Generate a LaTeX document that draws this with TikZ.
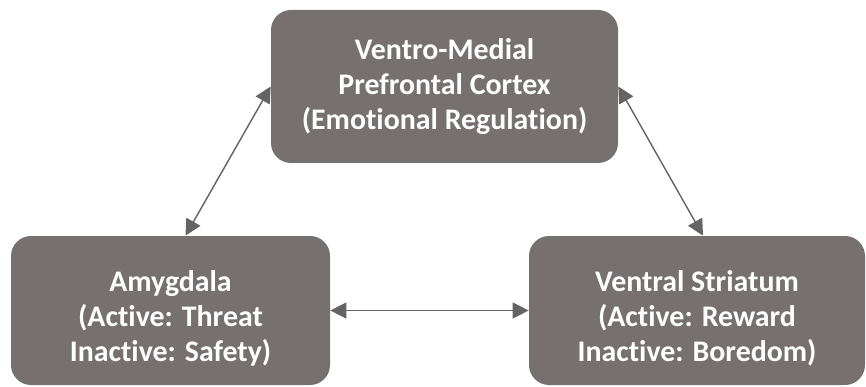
\documentclass[tikz,border=0pt]{standalone}
\usepackage{fontspec}
\setmainfont{Carlito}[Ligatures=NoCommon]
\usetikzlibrary{arrows.meta, positioning}
\definecolor{boxcol}{HTML}{767170}
\definecolor{linecol}{HTML}{646464}
\newcommand{\topgap}{\rule{0pt}{21pt}}

\begin{document}
\begin{tikzpicture}[
  box/.style={fill=boxcol, rounded corners=0.4cm, minimum height=2.98cm,
    font=\fontsize{17}{20}\selectfont\bfseries, text=white, align=center, inner sep=0pt},
  conn/.style={{Triangle[length=0.32cm, width=0.32cm]}-{Triangle[length=0.32cm, width=0.32cm]},
    line width=0.8pt, draw=linecol, fill=linecol},
]
\useasboundingbox (0,0) rectangle (17.32,-7.74);

% Prefrontal cortex on top
\node[box, minimum width=6.94cm, minimum height=3.06cm] (vmpfc) at (8.89,-1.73)
  {Ventro-Medial\\ Prefrontal Cortex\\ (Emotional Regulation)};

% Amygdala and striatum below
\node[box, minimum width=6.38cm] (amyg) at (3.41,-6.21)
  {\topgap Amygdala\\ (Active: Threat\\ Inactive: Safety)};
\node[box, minimum width=6.72cm] (striat) at (13.94,-6.21)
  {\topgap Ventral Striatum\\ (Active: Reward\\ Inactive: Boredom)};

% two-way links
\draw[conn] (vmpfc.west) -- ([xshift=0.3cm]amyg.north);
\draw[conn] (vmpfc.east) -- ([xshift=0.12cm]striat.north);
\draw[conn] (amyg.east) -- (striat.west);

\end{tikzpicture}
\end{document}
